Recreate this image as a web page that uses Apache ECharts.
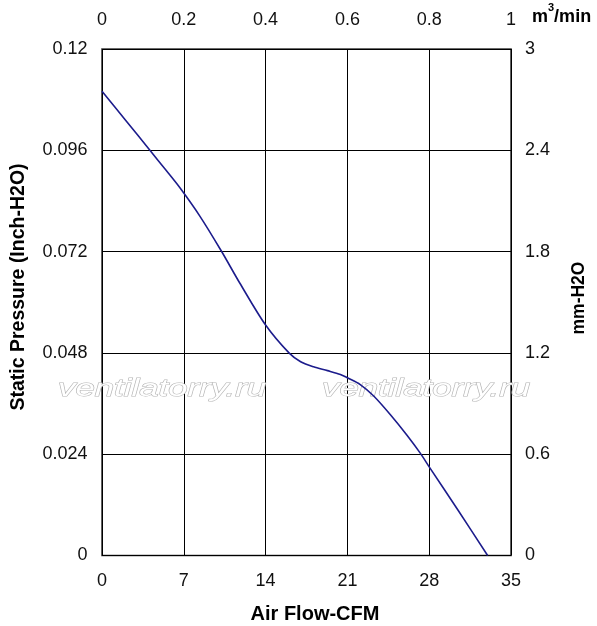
<!DOCTYPE html>
<html>
<head>
<meta charset="utf-8">
<script src="https://cdn.jsdelivr.net/npm/echarts@6/dist/echarts.min.js"></script>
<style>html,body{margin:0;padding:0;background:#fff}#c{width:597px;height:626px}</style>
</head>
<body>
<div id="c"></div>
<script>
// Air flow (CFM) and static pressure (inch-H2O)
var airFlowCFM = [0, 2, 4.1, 5.5, 6.7, 8.4, 10.2, 11.8, 14, 16, 17, 18.1, 19.3, 20.4, 21, 22.1, 23.25, 24.7, 26.1, 27.25, 28, 30.5, 33];
var pressureInH2O = [0.110, 0.1032, 0.096, 0.0912, 0.0870, 0.0803, 0.0722, 0.0645, 0.0546, 0.0480, 0.0459, 0.0447, 0.0438, 0.0429, 0.0421, 0.0405, 0.0378, 0.0333, 0.0285, 0.0242, 0.0210, 0.0106, 0];
var bottomTicks = ['0', '7', '14', '21', '28', '35'];
var topTicks = ['0', '0.2', '0.4', '0.6', '0.8', '1'];
var leftTicks = ['0', '0.024', '0.048', '0.072', '0.096', '0.12'];
var rightTicks = ['0', '0.6', '1.2', '1.8', '2.4', '3'];

var F = 'Liberation Sans, Arial, sans-serif';
var data = airFlowCFM.map(function (x, i) { return [x, pressureInH2O[i]]; });
var chart = echarts.init(document.getElementById('c'), null, {renderer: 'canvas'});
function lbl(arr, step) {
  return function (v) { var i = Math.round(v / step); return arr[i] !== undefined ? arr[i] : ''; };
}
var axisLabelStyle = {color: '#111', fontFamily: F, fontSize: 18};
var nameFont = function (size) { return 'bold ' + size + 'px ' + F; };
chart.setOption({
  animation: false,
  backgroundColor: '#fff',
  grid: {left: 102, right: 86, top: 49, bottom: 70.5, containLabel: false, outerBoundsMode: 'none',
         show: true, borderColor: '#3a3a3a', borderWidth: 1.6},
  xAxis: [{
    type: 'value', position: 'bottom', min: 0, max: 35, interval: 7,
    axisLine: {show: false}, axisTick: {show: false},
    splitLine: {show: true, lineStyle: {color: '#000', width: 1}},
    axisLabel: Object.assign({margin: 17, formatter: lbl(bottomTicks, 7)}, axisLabelStyle)
  }, {
    type: 'value', position: 'top', min: 0, max: 1, interval: 0.2,
    axisLine: {show: false}, axisTick: {show: false}, splitLine: {show: false},
    axisLabel: Object.assign({margin: 20, formatter: lbl(topTicks, 0.2)}, axisLabelStyle)
  }],
  yAxis: [{
    type: 'value', position: 'left', min: 0, max: 0.12, interval: 0.024,
    axisLine: {show: false}, axisTick: {show: false},
    splitLine: {show: true, lineStyle: {color: '#000', width: 1}},
    axisLabel: Object.assign({margin: 14.5, formatter: lbl(leftTicks, 0.024)}, axisLabelStyle)
  }, {
    type: 'value', position: 'right', min: 0, max: 3, interval: 0.6,
    axisLine: {show: false}, axisTick: {show: false}, splitLine: {show: false},
    axisLabel: Object.assign({margin: 14, formatter: lbl(rightTicks, 0.6)}, axisLabelStyle)
  }],
  graphic: [
    {type: 'text', x: 315, y: 614, z: 10, style: {text: 'Air Flow-CFM', font: nameFont(20), fill: '#000', align: 'center', verticalAlign: 'middle'}},
    {type: 'text', x: 19, y: 287, rotation: Math.PI / 2, z: 10, style: {text: 'Static Pressure (Inch-H2O)', font: nameFont(19.5), fill: '#000', align: 'center', verticalAlign: 'middle'}},
    {type: 'text', x: 579, y: 298, rotation: Math.PI / 2, z: 10, style: {text: 'mm-H2O', font: nameFont(17.5), fill: '#000', align: 'center', verticalAlign: 'middle'}},
    {type: 'text', left: 532, top: 2, z: 10, style: {
      text: '{b|m}{s|3}{b|/min}', fontFamily: F,
      rich: {b: {fontSize: 18, fontWeight: 'bold', fill: '#000', fontFamily: F, verticalAlign: 'bottom', lineHeight: 24},
             s: {fontSize: 11, fontWeight: 'bold', fill: '#000', fontFamily: F, verticalAlign: 'top', lineHeight: 24, padding: [0, 0, 10, 0]}}
    }},
    {type: 'text', x: 58, y: 389, scaleX: 1.45, z: 1, style: {text: 'ventilatorry.ru', font: 'italic 24px ' + F, fill: '#fff', stroke: '#b4b4b4', lineWidth: 1, align: 'left', verticalAlign: 'middle'}},
    {type: 'text', x: 322, y: 389, scaleX: 1.45, z: 1, style: {text: 'ventilatorry.ru', font: 'italic 24px ' + F, fill: '#fff', stroke: '#b4b4b4', lineWidth: 1, align: 'left', verticalAlign: 'middle'}}
  ],
  series: [{
    type: 'line', xAxisIndex: 0, yAxisIndex: 0, data: data, smooth: 0.3,
    showSymbol: false, z: 5,
    lineStyle: {color: '#1c1c8c', width: 1.6}
  }]
});
</script>
</body>
</html>
